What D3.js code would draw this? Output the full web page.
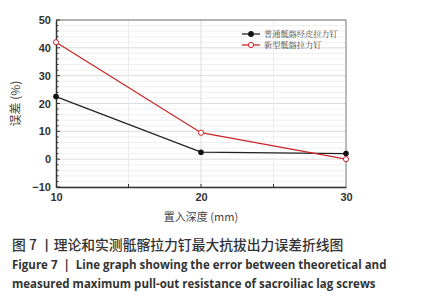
<!DOCTYPE html>
<html>
<head>
<meta charset="utf-8">
<script src="https://cdn.jsdelivr.net/npm/d3@7/dist/d3.min.js"></script>
<style>
  body { margin: 0; background: #fff; }
  svg { display: block; }
</style>
</head>
<body>
<div id="chart"></div>
<script>
// data
const depths = [10, 20, 30];
const seriesNames = ['普通骶髂经皮拉力钉', '新型骶髂拉力钉'];
const normalScrew = [22.5, 2.5, 2];
const newScrew = [42, 9.5, 0];
const yTicks = [-10, 0, 10, 20, 30, 40, 50];
const xTicks = [10, 20, 30];

const width = 425, height = 300;
const margin = { top: 20, right: 79, bottom: 113, left: 56 };

const svg = d3.select('#chart').append('svg')
  .attr('width', width)
  .attr('height', height);

const x = d3.scaleLinear().domain([10, 30]).range([margin.left, width - margin.right]);
const y = d3.scaleLinear().domain([-10, 50]).range([height - margin.bottom, margin.top]);

// minor horizontal grid every 2
const g = svg.append('g');
g.selectAll('.hminor')
  .data(d3.range(-10, 51, 2))
  .enter().append('line')
  .attr('x1', x(10)).attr('x2', x(30))
  .attr('y1', d => y(d)).attr('y2', d => y(d))
  .attr('stroke', d => d % 10 === 0 ? '#dcdcdc' : '#efefef')
  .attr('stroke-width', 1);

// vertical grid
g.selectAll('.vgrid')
  .data([15, 20, 25])
  .enter().append('line')
  .attr('y1', y(-10)).attr('y2', y(50))
  .attr('x1', d => x(d)).attr('x2', d => x(d))
  .attr('stroke', d => d === 20 ? '#dcdcdc' : '#ececec');

// frame (top/right lighter)
svg.append('line').attr('x1', x(10)).attr('x2', x(30)).attr('y1', y(50)).attr('y2', y(50))
  .attr('stroke', '#777').attr('stroke-width', 1);
svg.append('line').attr('x1', x(30)).attr('x2', x(30)).attr('y1', y(50)).attr('y2', y(-10))
  .attr('stroke', '#777').attr('stroke-width', 1);

// axes
const yAxis = svg.append('g')
  .attr('transform', `translate(${margin.left},0)`)
  .call(d3.axisLeft(y).tickValues(yTicks).tickSize(0).tickPadding(5).tickFormat(d3.format('d')));
yAxis.select('.domain').attr('stroke', '#333').attr('stroke-width', 1.5);
yAxis.selectAll('text')
  .style('font-family', 'Liberation Sans, Arial, sans-serif')
  .style('font-size', '11px')
  .style('font-weight', 'bold')
  .attr('fill', '#333');

// minor inner ticks on y axis
svg.append('g').selectAll('line')
  .data(d3.range(-10, 51, 2))
  .enter().append('line')
  .attr('x1', x(10)).attr('x2', d => x(10) + (d % 10 === 0 ? 4 : 2.5))
  .attr('y1', d => y(d)).attr('y2', d => y(d))
  .attr('stroke', '#333');

const xAxis = svg.append('g')
  .attr('transform', `translate(0,${height - margin.bottom})`)
  .call(d3.axisBottom(x).tickValues(xTicks).tickSize(0).tickPadding(6).tickFormat(d3.format('d')));
xAxis.select('.domain').attr('stroke', '#333').attr('stroke-width', 1.5);
xAxis.selectAll('text')
  .style('font-family', 'Liberation Sans, Arial, sans-serif')
  .style('font-size', '11px')
  .style('font-weight', 'bold')
  .attr('fill', '#333');

// small inner ticks on x axis
svg.append('g').selectAll('line')
  .data([15, 20, 25])
  .enter().append('line')
  .attr('x1', d => x(d)).attr('x2', d => x(d))
  .attr('y1', y(-10)).attr('y2', y(-10) - 3)
  .attr('stroke', '#333');

// axis titles
svg.append('text')
  .attr('transform', `translate(20,${(y(50) + y(-10)) / 2}) rotate(-90)`)
  .attr('text-anchor', 'middle')
  .style('font-family', 'Noto Sans CJK SC, sans-serif')
  .style('font-size', '12px')
  .attr('fill', '#444')
  .text('误差 (%)');

svg.append('text')
  .attr('x', x(20)).attr('y', 221)
  .attr('text-anchor', 'middle')
  .style('font-family', 'Noto Sans CJK SC, sans-serif')
  .style('font-size', '11px')
  .attr('fill', '#444')
  .text('置入深度 (mm)');

// lines
const line = d3.line().x((d, i) => x(depths[i])).y(d => y(d));

svg.append('path').datum(normalScrew)
  .attr('d', line).attr('fill', 'none')
  .attr('stroke', '#222').attr('stroke-width', 1.3);
svg.append('path').datum(newScrew)
  .attr('d', line).attr('fill', 'none')
  .attr('stroke', '#c8262a').attr('stroke-width', 1.3);

svg.append('g').selectAll('circle')
  .data(normalScrew)
  .enter().append('circle')
  .attr('cx', (d, i) => x(depths[i])).attr('cy', d => y(d))
  .attr('r', 2.8).attr('fill', '#111');
svg.append('g').selectAll('circle')
  .data(newScrew)
  .enter().append('circle')
  .attr('cx', (d, i) => x(depths[i])).attr('cy', d => y(d))
  .attr('r', 2.6).attr('fill', '#fff').attr('stroke', '#c8262a').attr('stroke-width', 1);

// legend
const legend = svg.append('g').attr('transform', 'translate(242,34)');
const legendColors = ['#222', '#c8262a'];
seriesNames.forEach((name, i) => {
  const row = legend.append('g').attr('transform', `translate(0,${i * 11})`);
  row.append('line').attr('x1', 0).attr('x2', 18).attr('y1', 0).attr('y2', 0)
    .attr('stroke', legendColors[i]).attr('stroke-width', 1.3);
  row.append('circle').attr('cx', 9).attr('cy', 0).attr('r', 2.6)
    .attr('fill', i === 0 ? '#111' : '#fff')
    .attr('stroke', legendColors[i]).attr('stroke-width', 1);
  row.append('text').attr('x', 22).attr('y', 3)
    .style('font-family', 'Noto Serif CJK SC, Noto Sans CJK SC, serif')
    .style('font-size', '8.2px')
    .attr('fill', '#444')
    .text(name);
});

// caption
svg.append('text')
  .attr('x', 12).attr('y', 250)
  .style('font-family', 'Noto Sans CJK SC, sans-serif')
  .style('font-size', '13.8px')
  .style('font-weight', 500)
  .attr('fill', '#333')
  .text('图 7 丨理论和实测骶髂拉力钉最大抗拔出力误差折线图');

const capLines = [
  'Figure 7 \u00a0| \u00a0Line graph showing the error between theoretical and',
  'measured maximum pull-out resistance of sacroiliac lag screws'
];
capLines.forEach((t, i) => {
  svg.append('text')
    .attr('x', 12).attr('y', 269 + i * 19)
    .style('font-family', 'Open Sans, sans-serif')
    .style('font-size', '11.5px')
    .style('font-weight', 'bold')
    .attr('fill', '#333')
    .text(t);
});
</script>
</body>
</html>
